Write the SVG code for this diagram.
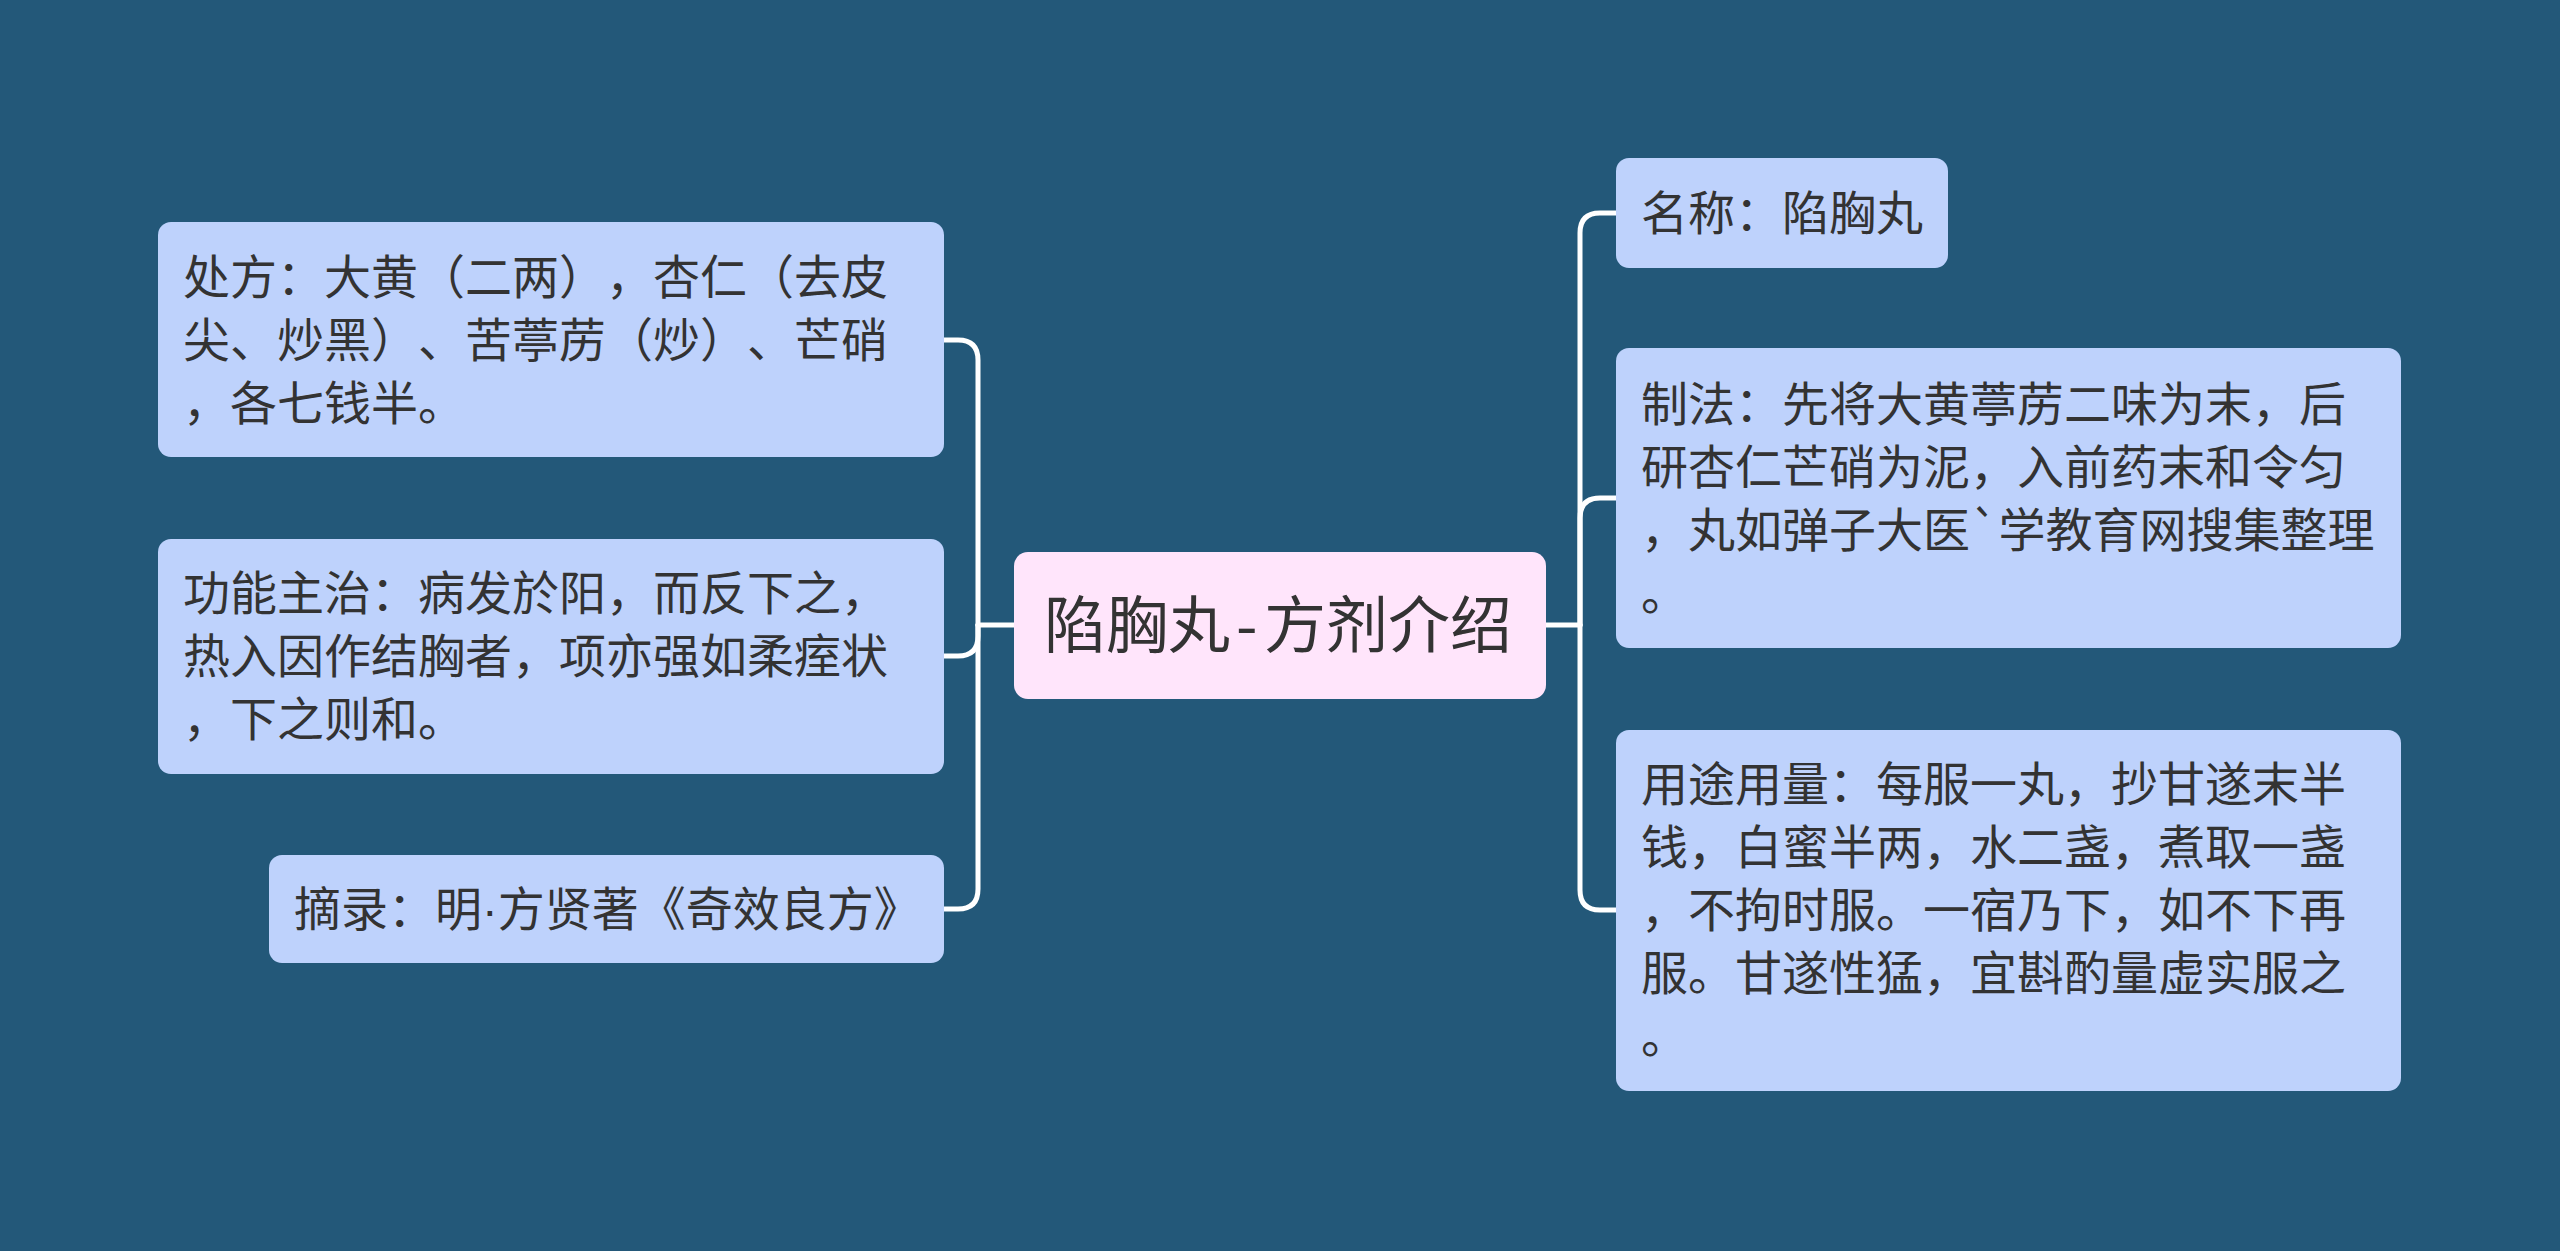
<svg xmlns="http://www.w3.org/2000/svg" width="2560" height="1251" viewBox="0 0 2560 1251">
<style>
.bg{fill:#235879}
.node{fill:#bed2fc}
.root{fill:#ffe5fb}
.t{font-family:"Noto Sans CJK SC","Noto Sans",sans-serif;font-size:47px;fill:#333333;text-spacing-trim:space-all;font-kerning:none}
.rt{font-family:"Noto Sans CJK SC","Noto Sans",sans-serif;font-size:62px;fill:#333333}
.lat{font-family:"Liberation Sans",sans-serif}
.c{fill:none;stroke:#ffffff;stroke-width:5;stroke-linecap:round}
</style>
<rect class="bg" x="0" y="0" width="2560" height="1251"/>
<g id="connectors">
<path class="c" d="M1014,625 H978"/>
<path class="c" d="M978,625 V360 Q978,340 958,340 H944"/>
<path class="c" d="M978,625 V636 Q978,656 958,656 H944"/>
<path class="c" d="M978,625 V889 Q978,909 958,909 H944"/>
<path class="c" d="M1546,625 H1580"/>
<path class="c" d="M1580,625 V233 Q1580,213 1600,213 H1616"/>
<path class="c" d="M1580,625 V518 Q1580,498 1600,498 H1616"/>
<path class="c" d="M1580,625 V890 Q1580,910 1600,910 H1616"/>
</g>
<g id="root">
<rect class="root" x="1014" y="552" width="532" height="147" rx="14"/>
<text class="rt" x="1044" y="648">陷胸丸<tspan x="1236">-</tspan><tspan x="1264">方剂介绍</tspan></text>
</g>
<g id="chufang">
<rect class="node" x="158" y="222" width="786" height="235" rx="13"/>
<text class="t" x="183" y="294">处方：大黄（二两），杏仁（去皮</text>
<text class="t" x="183" y="357">尖、炒黑）、苦葶苈（炒）、芒硝</text>
<text class="t" x="183" y="420">，各七钱半。</text>
</g>
<g id="gongneng">
<rect class="node" x="158" y="539" width="786" height="235" rx="13"/>
<text class="t" x="183" y="610">功能主治：病发於阳，而反下之，</text>
<text class="t" x="183" y="673">热入因作结胸者，项亦强如柔痓状</text>
<text class="t" x="183" y="736">，下之则和。</text>
</g>
<g id="zhailu">
<rect class="node" x="269" y="855" width="675" height="108" rx="13"/>
<text class="t" x="294" y="926">摘录：明<tspan class="lat">·</tspan>方贤著《奇效良方》</text>
</g>
<g id="mingcheng">
<rect class="node" x="1616" y="158" width="332" height="110" rx="13"/>
<text class="t" x="1641" y="230">名称：陷胸丸</text>
</g>
<g id="zhifa">
<rect class="node" x="1616" y="348" width="785" height="300" rx="13"/>
<text class="t" x="1641" y="421">制法：先将大黄葶苈二味为末，后</text>
<text class="t" x="1641" y="484">研杏仁芒硝为泥，入前药末和令匀</text>
<text class="t" x="1641" y="547">，丸如弹子大医`学教育网搜集整理</text>
<text class="t" x="1641" y="610">。</text>
</g>
<g id="yongtu">
<rect class="node" x="1616" y="730" width="785" height="361" rx="13"/>
<text class="t" x="1641" y="801">用途用量：每服一丸，抄甘遂末半</text>
<text class="t" x="1641" y="864">钱，白蜜半两，水二盏，煮取一盏</text>
<text class="t" x="1641" y="927">，不拘时服。一宿乃下，如不下再</text>
<text class="t" x="1641" y="990">服。甘遂性猛，宜斟酌量虚实服之</text>
<text class="t" x="1641" y="1053">。</text>
</g>
</svg>
